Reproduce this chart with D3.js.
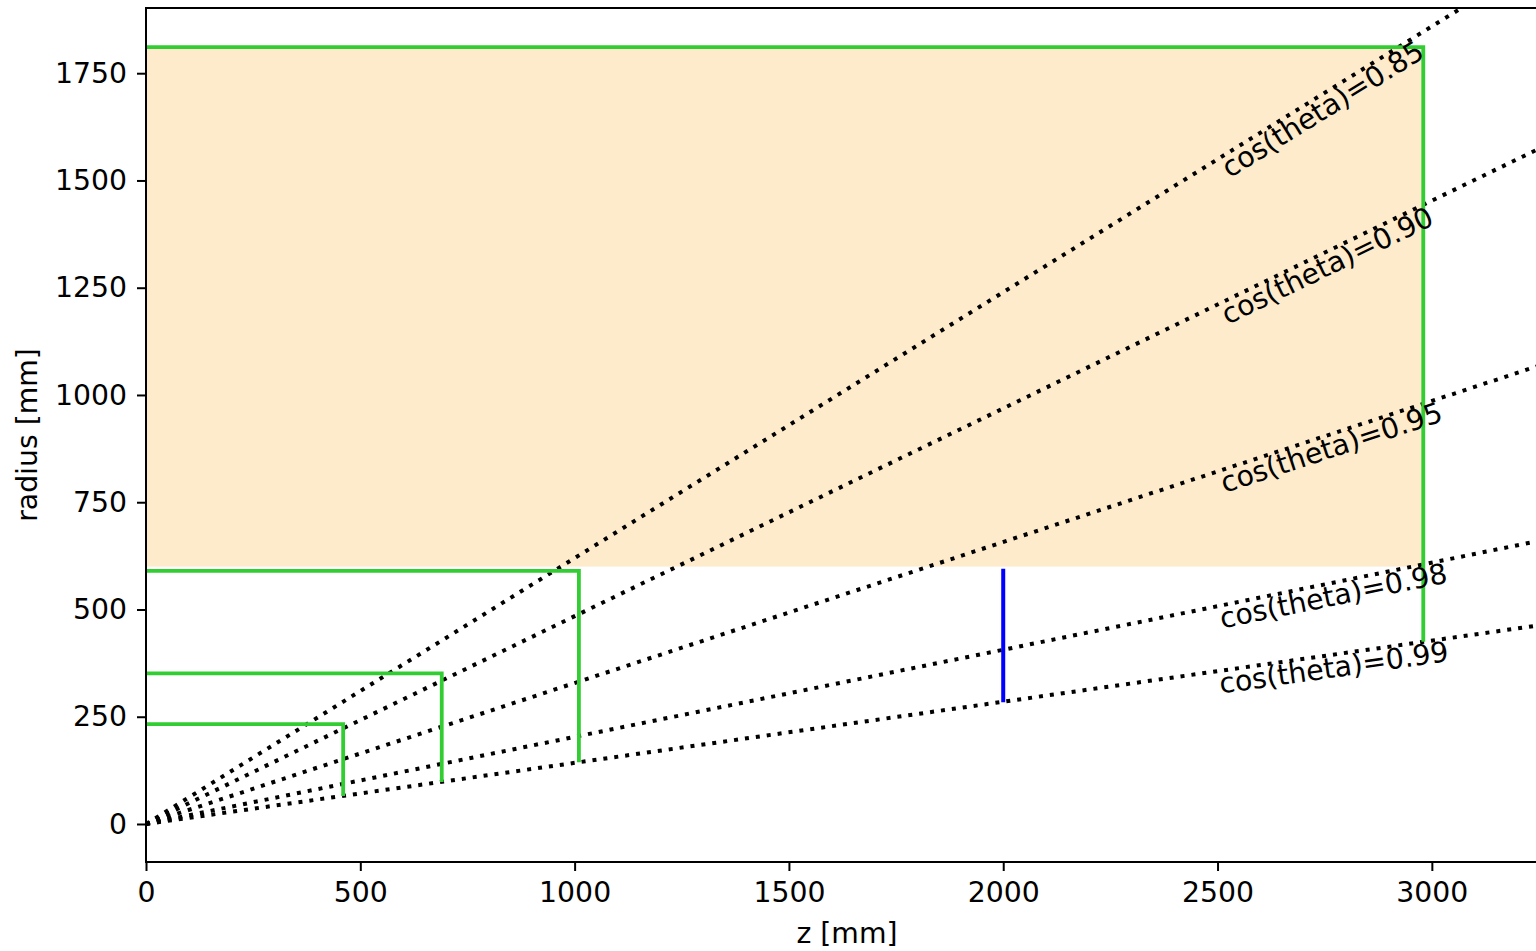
<!DOCTYPE html>
<html>
<head>
<meta charset="utf-8">
<script src="https://cdn.jsdelivr.net/npm/d3@7"></script>
<style>
  html, body { margin: 0; padding: 0; background: #ffffff; }
  svg { display: block; }
  text { font-family: "DejaVu Sans", sans-serif; fill: #000; }
</style>
</head>
<body>
<svg id="chart" width="1536" height="951"></svg>
<script>
// ---- data ----
const cosThetaValues = [0.85, 0.90, 0.95, 0.98, 0.99];
const labelZ = 2500;                       // z where each cos(theta) label starts
const boxZ = [460, 690, 1010, 2980];       // green boundaries: half-length z
const boxR = [233, 351, 590, 1811];        // green boundaries: radius
const boxRLow = [65, 98, 144, 425];        // lower end of each vertical green segment
const fillZ = [0, 2980];                   // shaded region z extent
const fillR = [600, 1810];                 // shaded region r extent
const blueZ = [2000];
const blueR = [595, 284];
const xTicks = [0, 500, 1000, 1500, 2000, 2500, 3000];
const yTicks = [0, 250, 500, 750, 1000, 1250, 1500, 1750];
const xDomain = [0, 3271];
const yDomain = [-88.6, 1902];

// ---- layout ----
const svg = d3.select("#chart");
const mLeft = 146, mRight = 1548, mTop = 8, mBottom = 862;
const fs = 28.3;

const x = d3.scaleLinear().domain(xDomain).range([mLeft, mRight]);
const y = d3.scaleLinear().domain(yDomain).range([mBottom, mTop]);

svg.append("defs").append("clipPath").attr("id", "plotclip")
  .append("rect").attr("x", mLeft).attr("y", mTop)
  .attr("width", mRight - mLeft).attr("height", mBottom - mTop);

const plot = svg.append("g").attr("clip-path", "url(#plotclip)");

// shaded region
plot.append("rect")
  .attr("x", x(fillZ[0])).attr("y", y(fillR[1]))
  .attr("width", x(fillZ[1]) - x(fillZ[0]))
  .attr("height", y(fillR[0]) - y(fillR[1]))
  .attr("fill", "#FDEBCB");

// dotted cos(theta) lines
const tanOf = c => Math.sqrt(1 - c * c) / c;
plot.selectAll("line.cos").data(cosThetaValues).enter().append("line")
  .attr("class", "cos")
  .attr("x1", x(0)).attr("y1", y(0))
  .attr("x2", x(xDomain[1])).attr("y2", c => y(xDomain[1] * tanOf(c)))
  .attr("stroke", "#000").attr("stroke-width", 4)
  .attr("stroke-dasharray", "4,7").attr("stroke-linecap", "butt");

// green boundaries
const lineGen = d3.line().x(d => x(d[0])).y(d => y(d[1]));
boxZ.forEach((z, i) => {
  plot.append("path")
    .attr("d", lineGen([[0, boxR[i]], [z, boxR[i]], [z, boxRLow[i]]]))
    .attr("fill", "none").attr("stroke", "#32CD32")
    .attr("stroke-width", 3.8).attr("stroke-linejoin", "miter")
    .attr("stroke-linecap", "butt");
});

// blue segment
plot.append("path")
  .attr("d", lineGen([[blueZ[0], blueR[0]], [blueZ[0], blueR[1]]]))
  .attr("fill", "none").attr("stroke", "#0000FF").attr("stroke-width", 4);

// labels along lines
cosThetaValues.forEach(c => {
  const r = labelZ * tanOf(c);
  const px = x(labelZ), py = y(r);
  const ang = Math.atan2(y(0) - y(r), x(labelZ) - x(0)) * 180 / Math.PI;
  svg.append("text")
    .attr("transform", `translate(${px},${py}) rotate(${-ang})`)
    .attr("x", 0).attr("y", 0).attr("dy", "0.8em")
    .attr("font-size", fs)
    .text(`cos(theta)=${c.toFixed(2)}`);
});

// axes
const xAxis = d3.axisBottom(x).tickValues(xTicks).tickSize(9).tickPadding(11).tickFormat(d3.format("d"));
const yAxis = d3.axisLeft(y).tickValues(yTicks).tickSize(9).tickPadding(10).tickFormat(d3.format("d"));

const gx = svg.append("g").attr("transform", `translate(0,${mBottom})`).call(xAxis);
const gy = svg.append("g").attr("transform", `translate(${mLeft},0)`).call(yAxis);
[gx, gy].forEach(g => {
  g.select(".domain").remove();
  g.selectAll(".tick line").attr("stroke", "#000").attr("stroke-width", 2);
  g.selectAll(".tick text").attr("font-size", fs).attr("font-family", "DejaVu Sans").attr("fill", "#000");
});

// spines
svg.append("rect")
  .attr("x", mLeft).attr("y", mTop)
  .attr("width", mRight - mLeft).attr("height", mBottom - mTop)
  .attr("fill", "none").attr("stroke", "#000").attr("stroke-width", 2);

// axis labels
svg.append("text")
  .attr("x", (mLeft + mRight) / 2).attr("y", 943)
  .attr("text-anchor", "middle").attr("font-size", fs)
  .text("z [mm]");
svg.append("text")
  .attr("transform", `translate(37,${(mTop + mBottom) / 2}) rotate(-90)`)
  .attr("text-anchor", "middle").attr("font-size", fs)
  .text("radius [mm]");
</script>
</body>
</html>
